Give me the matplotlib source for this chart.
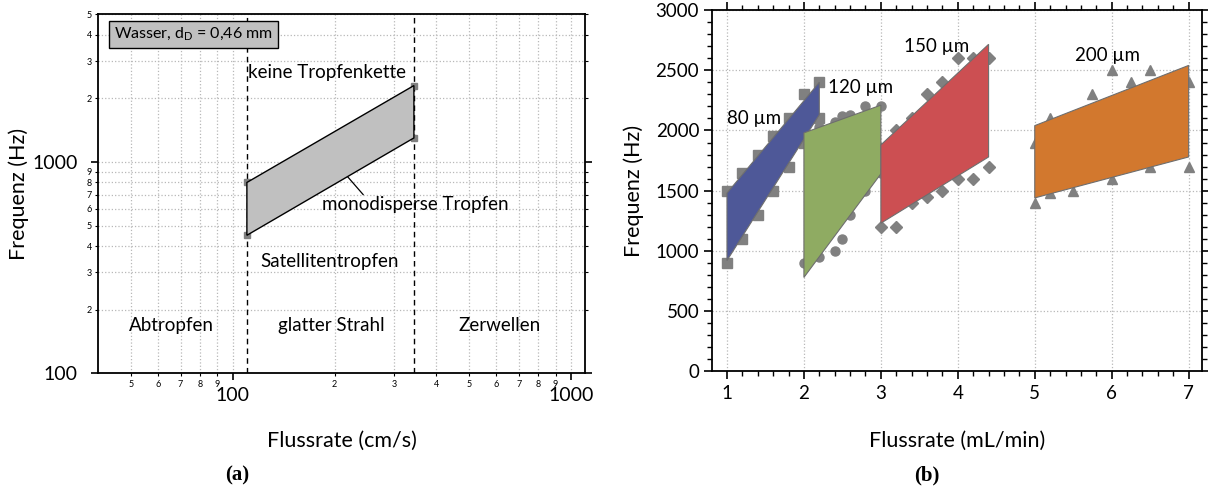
import matplotlib
matplotlib.use("Agg")
import matplotlib.pyplot as plt
from matplotlib.ticker import FixedLocator, MultipleLocator

plt.rcParams["font.family"] = ["Lato", "DejaVu Sans"]
plt.rcParams["mathtext.fontset"] = "custom"
plt.rcParams["mathtext.rm"] = "Lato"

# ---- (a) regime map, water, d_D = 0.46 mm ----
regime_x = [110, 343, 343, 110]          # cm/s
regime_y = [800, 2300, 1300, 450]        # Hz
boundary_x = [110, 343]                  # dashed regime boundaries
xminor_a = [50, 60, 70, 80, 90, 200, 300, 400, 500, 600, 700, 800, 900]
xminor_lab_a = ["5", "6", "7", "8", "9", "2", "3", "4", "5", "6", "7", "8", "9"]
yminor_a = [200, 300, 400, 500, 600, 700, 800, 900, 2000, 3000, 4000, 5000]
yminor_lab_a = ["2", "3", "4", "5", "6", "7", "8", "9", "2", "3", "4", "5"]

# ---- (b) nozzle sizes ----
sizes = ["80 µm", "120 µm", "150 µm", "200 µm"]
colors = ["#4e5898", "#8fab62", "#cc4f52", "#d2782e"]
markers = ["s", "o", "D", "^"]
poly_x = [[1.0, 2.2, 2.2, 1.0],
          [2.0, 3.0, 3.0, 2.0],
          [3.0, 4.4, 4.4, 3.0],
          [5.0, 7.0, 7.0, 5.0]]
poly_y = [[1480, 2400, 2130, 920],
          [1980, 2210, 1640, 780],
          [1880, 2715, 1780, 1230],
          [2040, 2540, 1780, 1440]]
# measured upper / lower limits
up_x = [[1.0, 1.2, 1.4, 1.6, 1.8, 2.0, 2.2],
        [2.0, 2.2, 2.4, 2.5, 2.6, 2.8, 3.0],
        [3.0, 3.2, 3.4, 3.6, 3.8, 4.0, 4.2, 4.4],
        [5.0, 5.2, 5.75, 6.0, 6.25, 6.5, 7.0]]
up_y = [[1500, 1650, 1800, 1950, 2100, 2300, 2400],
        [2000, 2030, 2070, 2120, 2130, 2200, 2200],
        [1850, 2000, 2100, 2300, 2400, 2600, 2600, 2600],
        [1900, 2100, 2300, 2500, 2400, 2500, 2400]]
lo_x = [[1.0, 1.2, 1.4, 1.6, 1.8, 2.0, 2.2],
        [2.0, 2.2, 2.4, 2.5, 2.6, 2.8, 3.0],
        [3.0, 3.2, 3.4, 3.6, 3.8, 4.0, 4.2, 4.4],
        [5.0, 5.2, 5.5, 6.0, 6.5, 7.0]]
lo_y = [[900, 1100, 1300, 1500, 1700, 1900, 2100],
        [900, 950, 1000, 1100, 1300, 1500, 1650],
        [1200, 1200, 1400, 1450, 1500, 1600, 1600, 1700],
        [1400, 1480, 1500, 1600, 1700, 1700]]
label_x = [1.0, 2.74, 3.72, 5.95]
label_y = [2100, 2360, 2700, 2620]
label_ha = ["left", "center", "center", "center"]

fig = plt.figure(figsize=(12.08, 4.88), dpi=100)
ax1 = fig.add_axes([0.0814, 0.235, 0.4029, 0.7357])
ax2 = fig.add_axes([0.5897, 0.239, 0.4051, 0.7405])

grid_kw = dict(color="#b8b8b8", linestyle=":", linewidth=0.9)

# ---------- panel (a) ----------
ax1.set_xscale("log")
ax1.set_yscale("log")
ax1.set_xlim(40, 1100)
ax1.set_ylim(100, 5000)
ax1.set_xticks([100, 1000])
ax1.set_xticklabels(["100", "1000"], fontsize=14)
ax1.set_yticks([100, 1000])
ax1.set_yticklabels(["100", "1000"], fontsize=14)
ax1.xaxis.set_minor_locator(FixedLocator(xminor_a))
ax1.yaxis.set_minor_locator(FixedLocator(yminor_a))
ax1.set_xticks(xminor_a, labels=xminor_lab_a, minor=True, fontsize=6.5)
ax1.set_yticks(yminor_a, labels=yminor_lab_a, minor=True, fontsize=6.5)
ax1.tick_params(which="major", length=5, width=1.2, direction="out")
ax1.tick_params(which="minor", length=2.5, width=0.8, pad=2, direction="out")
ax1.tick_params(axis="x", which="major", pad=5)
ax1.tick_params(axis="y", which="major", pad=10)
ax1.tick_params(right=True, which="both", direction="out")
ax1.grid(True, which="both", **grid_kw)
ax1.set_axisbelow(True)

for bx in boundary_x:
    ax1.axvline(bx, color="black", linestyle=(0, (4, 3)), linewidth=1.0, zorder=2)
ax1.plot(regime_x, regime_y, linestyle="none", marker="s", markersize=5,
         color="#808080", zorder=3)
ax1.fill(regime_x, regime_y, facecolor="#c0c0c0", edgecolor="black",
         linewidth=1.0, zorder=4)

ax1.text(44.5, 4000, "Wasser, d$_\\mathrm{D}$ = 0,46 mm", fontsize=11.5,
         va="center", ha="left", zorder=6,
         bbox=dict(boxstyle="square,pad=0.3", facecolor="#c0c0c0",
                   edgecolor="black", linewidth=1.0))
ax1.text(111, 2650, "keine Tropfenkette", fontsize=13.5, ha="left", va="center")
ax1.text(347, 630, "monodisperse Tropfen", fontsize=13.5, ha="center", va="center")
ax1.annotate("", xy=(197, 1030), xytext=(243, 700),
             arrowprops=dict(arrowstyle="-", color="black", lw=0.9,
                             shrinkA=0, shrinkB=0))
ax1.text(193, 340, "Satellitentropfen", fontsize=13.5, ha="center", va="center")
ax1.text(66, 168, "Abtropfen", fontsize=13.5, ha="center", va="center")
ax1.text(195, 168, "glatter Strahl", fontsize=13.5, ha="center", va="center")
ax1.text(613, 168, "Zerwellen", fontsize=13.5, ha="center", va="center")

ax1.set_xlabel("Flussrate (cm/s)", fontsize=15.5, labelpad=19)
ax1.set_ylabel("Frequenz (Hz)", fontsize=15.5, labelpad=2)

# ---------- panel (b) ----------
ax2.set_xlim(0.81, 7.17)
ax2.set_ylim(0, 3000)
ax2.set_xticks([1, 2, 3, 4, 5, 6, 7])
ax2.set_yticks([0, 500, 1000, 1500, 2000, 2500, 3000])
ax2.xaxis.set_minor_locator(MultipleLocator(0.2))
ax2.yaxis.set_minor_locator(MultipleLocator(100))
ax2.tick_params(which="major", length=6, width=1.2, labelsize=13.5, direction="out")
ax2.tick_params(which="minor", length=3.5, width=1.0, direction="out")
ax2.tick_params(which="both", top=True, right=True)
ax2.grid(True, which="major", **grid_kw)
ax2.set_axisbelow(True)

for i in range(len(sizes)):
    ms = 6 if markers[i] == "D" else 6.5
    ax2.plot(up_x[i], up_y[i], linestyle="none", marker=markers[i],
             markersize=ms, color="#808080", zorder=2)
    ax2.plot(lo_x[i], lo_y[i], linestyle="none", marker=markers[i],
             markersize=ms, color="#808080", zorder=2)
    ax2.fill(poly_x[i], poly_y[i], facecolor=colors[i], edgecolor="#6e6e6e",
             linewidth=0.8, zorder=3)
    ax2.text(label_x[i], label_y[i], sizes[i], fontsize=13.5,
             ha=label_ha[i], va="center", zorder=5)

ax2.set_xlabel("Flussrate (mL/min)", fontsize=15.5, labelpad=21)
ax2.set_ylabel("Frequenz (Hz)", fontsize=15.5, labelpad=8)

for ax in (ax1, ax2):
    for sp in ax.spines.values():
        sp.set_linewidth(1.3)

fig.text(0.196, 0.005, "(a)", fontsize=15, fontweight="bold",
         family=["Liberation Serif", "DejaVu Serif"], ha="center", va="bottom")
fig.text(0.767, 0.005, "(b)", fontsize=15, fontweight="bold",
         family=["Liberation Serif", "DejaVu Serif"], ha="center", va="bottom")

fig.savefig("out.png", dpi=100)
